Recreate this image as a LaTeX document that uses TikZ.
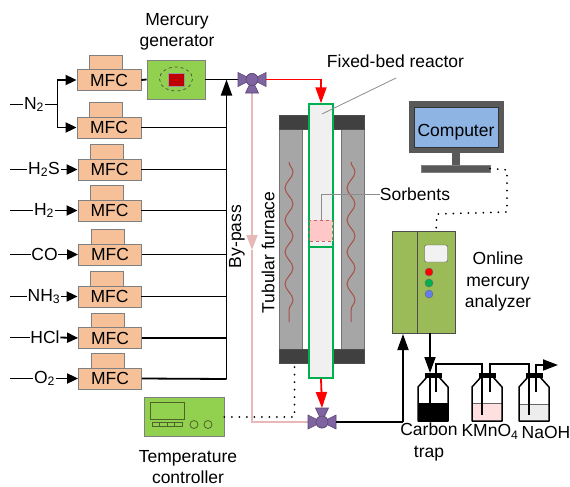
\documentclass[tikz,border=0pt]{standalone}
\usepackage{fontspec}
\setmainfont{Liberation Sans}
\usetikzlibrary{arrows.meta,decorations.pathmorphing}
\newcommand{\labelfont}{\fontsize{17.5}{21.5}\selectfont}
\definecolor{mfcfill}{HTML}{F6C199}
\definecolor{boxgreen}{HTML}{92D050}
\definecolor{olivegreen}{HTML}{9BBB59}
\definecolor{valvepurple}{HTML}{8064A2}
\definecolor{bypasspink}{HTML}{E6B8B7}
\definecolor{wirered}{HTML}{A5504A}
\definecolor{reactorgreen}{HTML}{00B050}
\definecolor{screenblue}{HTML}{8EB4E3}
\definecolor{lineolive}{HTML}{4F6228}
\tikzset{
  pipe/.style={draw=black,line width=1.8pt},
  tip/.style={-{Triangle[length=11pt,width=10pt]}},
  bigtip/.style={-{Triangle[length=16pt,width=11pt]}},
  mfcbody/.style={draw=black!50,fill=mfcfill,line width=0.8pt,minimum width=64pt,minimum height=21pt,inner sep=0pt,font=\labelfont},
  mfctop/.style={draw=black!50,fill=mfcfill,line width=0.8pt,minimum width=33pt,minimum height=15pt,inner sep=0pt},
  gas/.style={inner sep=0.5pt,font=\labelfont},
  caption/.style={inner sep=0pt,align=center,font=\labelfont},
  greenbox/.style={draw=black!50,fill=boxgreen,line width=0.8pt,inner sep=0pt},
  column/.style={draw=black!55,fill=black!35,line width=0.8pt},
  endcap/.style={draw=black!70,fill=black!75,line width=0.5pt},
  wire/.style={draw=wirered,line width=1pt,decorate,decoration={snake,segment length=32pt,amplitude=4pt}},
  valve/.style={draw=valvepurple!70!black,fill=valvepurple,line width=0.6pt},
  valvedot/.style={circle,valve,minimum size=12pt,inner sep=0pt},
  leader/.style={draw=black!45,line width=0.8pt},
  signal/.style={draw=black,line width=2pt,line cap=round,dash pattern=on 0pt off 7.5pt},
  bottle/.style={draw=black,line width=1.5pt,line join=round},
  panel/.style={draw=lineolive,line width=0.8pt},
}
\begin{document}
\begin{tikzpicture}[x=1pt,y=-1pt]
\useasboundingbox (0,0) rectangle (570,487);

\node[mfctop] (mfcatop) at (105.5,62.5) {};
\node[mfctop] (mfcbtop) at (105.5,110) {};
\node[mfctop] (mfcctop) at (106.5,152) {};
\node[mfctop] (mfcdtop) at (106.5,193) {};
\node[mfctop] (mfcetop) at (107.5,236.5) {};
\node[mfctop] (mfcftop) at (106.5,278.5) {};
\node[mfctop] (mfcgtop) at (107.5,320.5) {};
\node[mfctop] (mfchtop) at (107.5,361) {};
\node[mfcbody] (mfca) at (109,80) {MFC};
\node[mfcbody] (mfcb) at (109,127.5) {MFC};
\node[mfcbody,minimum width=63pt] (mfcc) at (109.5,169.5) {MFC};
\node[mfcbody,minimum width=63pt] (mfcd) at (109.5,210.5) {MFC};
\node[mfcbody,minimum width=63pt] (mfce) at (110,254.5) {MFC};
\node[mfcbody,minimum width=63pt] (mfcf) at (109.5,296.5) {MFC};
\node[mfcbody,minimum width=63pt] (mfcg) at (110,338) {MFC};
\node[mfcbody,minimum width=63pt] (mfch) at (110,378.5) {MFC};

\node[gas] (ntwo) at (34,104.5) {N\textsubscript{2}};
\node[gas] (hts) at (44,169.5) {H\textsubscript{2}S};
\node[gas] (htwo) at (44,210.5) {H\textsubscript{2}};
\node[gas] (co) at (44.5,254.5) {CO};
\node[gas] (nhthree) at (44,296.5) {NH\textsubscript{3}};
\node[gas] (hcl) at (45,337.5) {HCl};
\node[gas] (otwo) at (44.5,378.5) {O\textsubscript{2}};

\coordinate (ntwoin) at (10,104.5);
\coordinate (htsin) at (10,169.5);
\coordinate (htwoin) at (10,210.5);
\coordinate (coin) at (10,254.5);
\coordinate (nhthreein) at (10,296.5);
\coordinate (hclin) at (10,337.5);
\coordinate (otwoin) at (10,378.5);
\coordinate (split) at (57.5,104.5);

\draw[pipe] (ntwoin) -- (ntwo.west);
\draw[pipe] (ntwo.east) -- (split);
\draw[pipe,tip] (split) |- (mfca.west);
\draw[pipe,tip] (split) |- (mfcb.west);
\draw[pipe] (htsin) -- (hts.west);
\draw[pipe,tip] (hts.east) -- (mfcc.west);
\draw[pipe] (htwoin) -- (htwo.west);
\draw[pipe,tip] (htwo.east) -- (mfcd.west);
\draw[pipe] (coin) -- (co.west);
\draw[pipe,tip] (co.east) -- (mfce.west);
\draw[pipe] (nhthreein) -- (nhthree.west);
\draw[pipe,tip] (nhthree.east) -- (mfcf.west);
\draw[pipe] (hclin) -- (hcl.west);
\draw[pipe,tip] (hcl.east) -- (mfcg.west);
\draw[pipe] (otwoin) -- (otwo.west);
\draw[pipe,tip] (otwo.east) -- (mfch.west);

\node[greenbox,minimum width=58pt,minimum height=39pt] (generator) at (176,79.5) {};
\draw[black!70,dashed,line width=0.7pt] (176,79) ellipse (16.5 and 12);
\node[draw=black!40,fill=red!75!black,minimum width=16pt,minimum height=13pt,inner sep=0pt] (source) at (176,79.5) {};
\node[caption] (generatorlabel) at (177,32) {Mercury\\generator};

\coordinate (bypassend) at (226.5,379);
\coordinate (bypasstop) at (226.5,79.5);
\draw[pipe] (mfca.east) -- (generator.west);
\draw[pipe] (mfcb.east) -- (mfcb.east -| bypassend);
\draw[pipe] (mfcc.east) -- (mfcc.east -| bypassend);
\draw[pipe] (mfcd.east) -- (mfcd.east -| bypassend);
\draw[pipe] (mfce.east) -- (mfce.east -| bypassend);
\draw[pipe] (mfcf.east) -- (mfcf.east -| bypassend);
\draw[pipe] (mfcg.east) -- (mfcg.east -| bypassend);
\draw[pipe] (mfch.east) -- (bypassend);
\draw[pipe,bigtip] (bypassend) -- (bypasstop);

\node[valvedot] (valvein) at (252,79.5) {};
\node[valvedot] (valveout) at (322,422) {};
\coordinate (valveinleft) at (238,79.5);
\coordinate (valveinright) at (266,79.5);
\coordinate (valveindown) at (252,93);
\coordinate (valveoutleft) at (308,422);
\coordinate (valveoutright) at (336,422);
\coordinate (valveoutup) at (322,408);
\draw[pipe] (generator.east) -- (valveinleft);
\draw[draw=bypasspink,line width=1.8pt,-{Triangle[length=15pt,width=11pt]}] (valveindown) -- (252,250);
\draw[draw=bypasspink,line width=1.8pt] (252,250) |- (valveoutleft);
\draw[valve] (238,72.5) -- (266,86.5) -- (266,72.5) -- (238,86.5) -- cycle;
\draw[valve] (252,79.5) -- (258.5,93) -- (245.5,93) -- cycle;
\node[valvedot] at (valvein) {};
\draw[valve] (308,415) -- (336,429) -- (336,415) -- (308,429) -- cycle;
\draw[valve] (322,422) -- (328.5,408) -- (315.5,408) -- cycle;
\node[valvedot] at (valveout) {};

\draw[column] (279,129) rectangle (302,349);
\draw[column] (341,129) rectangle (364,349);
\draw[endcap] (279,115) rectangle (310,129);
\draw[endcap] (333,115) rectangle (364,129);
\draw[endcap] (279,349) rectangle (310,363);
\draw[endcap] (333,349) rectangle (364,363);
\draw[wire] (289,162) -- (289,322);
\draw[wire] (351,162) -- (351,322);

\node[draw=reactorgreen,fill=black!6,line width=1.5pt,minimum width=24pt,minimum height=274pt,inner sep=0pt] (reactor) at (321,241) {};
\node[draw=red!60!black!60,dashed,fill=red!22,line width=0.6pt,minimum width=23pt,minimum height=21pt,inner sep=0pt] (sorbent) at (321,230.5) {};
\draw[draw=reactorgreen,line width=1.5pt] (reactor.west |- 247,247) -- (reactor.east |- 247,247);
\draw[draw=red,line width=1.8pt,bigtip] (valveinright) -| (reactor.north);
\draw[draw=red,line width=1.8pt,bigtip] (reactor.south) -- (valveoutup);

\node[caption] (reactorlabel) at (395.5,61) {Fixed-bed reactor};
\node[caption] (sorbentlabel) at (415,194) {Sorbents};
\coordinate (reactorpoint) at (322,114);
\coordinate (reactorend) at (396,78);
\draw[leader] (reactorpoint) -- (reactorend);
\draw[leader] (sorbent.north) |- (sorbentlabel.west);
\node[caption,rotate=90] (furnacelabel) at (268,252.5) {Tubular furnace};
\node[caption,rotate=90] (bypasslabel) at (237,236.5) {By-pass};

\node[greenbox,minimum width=80pt,minimum height=39pt] (controller) at (184,416.5) {};
\draw[panel] (150,402) rectangle (184,419);
\draw[panel] (152,422) rectangle (159,426.5);
\draw[panel] (159,422) rectangle (167,426.5);
\draw[panel] (167,422) rectangle (174,426.5);
\draw[panel] (174,422) rectangle (182,426.5);
\draw[panel] (194,424.5) circle (4);
\draw[panel] (208,424.5) circle (4);
\node[caption] (controllerlabel) at (188,467) {Temperature\\controller};
\coordinate (capbottom) at (294.5,363);
\draw[signal] (controller.east |- 0,417) -| (capbottom);

\node[draw=black!65,fill=black!65,minimum width=94pt,minimum height=51pt,inner sep=0pt] (monitor) at (456,126.5) {};
\node[draw=black!80,fill=screenblue,minimum width=84pt,minimum height=40pt,inner sep=0pt] (screen) at (456,127) {};
\node[caption] (computerlabel) at (456,132) {Computer};
\node[fill=black!65,minimum width=8pt,minimum height=13pt,inner sep=0pt] (stand) at (456,158.5) {};
\node[draw=black!50,fill=black!65,minimum width=69pt,minimum height=7pt,inner sep=0pt] (base) at (455.5,168.5) {};

\node[draw=black!70,fill=olivegreen,line width=0.8pt,minimum width=63pt,minimum height=102pt,inner sep=0pt] (analyzer) at (423.5,282) {};
\draw[draw=black!70,line width=0.8pt] (417,231) -- (417,333);
\node[draw=black!70,fill=black!5,rounded corners=2pt,minimum width=23pt,minimum height=17pt,inner sep=0pt] (display) at (436,253.5) {};
\node[circle,draw=black!60,fill=red,minimum size=8pt,inner sep=0pt] (ledred) at (429,272) {};
\node[circle,draw=black!60,fill=reactorgreen,minimum size=8pt,inner sep=0pt] (ledgreen) at (429,283) {};
\node[circle,draw=black!60,fill=screenblue!70!blue,minimum size=8pt,inner sep=0pt] (ledblue) at (429,294) {};
\node[caption] (analyzerlabel) at (498,281.5) {Online\\mercury\\analyzer};
\coordinate (analyzerport) at (436,231);
\draw[signal] (base.east) -- (507,170) -- (507,212) -- (437,214) -- (analyzerport);

\coordinate (drain) at (403,422);
\draw[pipe] (valveoutright) -- (drain);
\draw[pipe,bigtip] (drain) -- (403,334);

\fill[black] (418,403) rectangle (448,421);
\fill[red!12] (472,403) rectangle (502,421);
\fill[black!7] (519,404) rectangle (549,421);
\draw[black!60,line width=0.7pt] (472,403) -- (502,403);
\draw[black!60,line width=0.7pt] (519,404) -- (549,404);
\draw[bottle] (427,377) -- (418,387) -- (418,421) -- (448,421) -- (448,387) -- (439,377);
\draw[bottle] (481,377) -- (472,387) -- (472,421) -- (502,421) -- (502,387) -- (493,377);
\draw[bottle] (528,377) -- (519,387) -- (519,421) -- (549,421) -- (549,387) -- (540,377);
\draw[black,line width=4.5pt] (425,375.5) -- (442,375.5);
\draw[black,line width=4.5pt] (479,375.5) -- (496,375.5);
\draw[black,line width=4.5pt] (526,375.5) -- (543,375.5);

\coordinate (trapin) at (430,373);
\coordinate (trapdip) at (430,403);
\draw[pipe,bigtip] (430,333) -- (trapin);
\draw[pipe] (trapin) -- (trapdip);
\draw[pipe] (436,392) |- (482,364) -- (482,415);
\draw[pipe] (490,392) |- (529,364) -- (529,415);
\draw[pipe,-{Triangle[length=15pt,width=11pt]}] (536,392) |- (558,365);

\node[caption] (traplabel) at (429,442) {Carbon\\trap};
\node[caption] (kmnolabel) at (490,432) {KMnO\textsubscript{4}};
\node[caption] (naohlabel) at (546,432) {NaOH};
\end{tikzpicture}
\end{document}
